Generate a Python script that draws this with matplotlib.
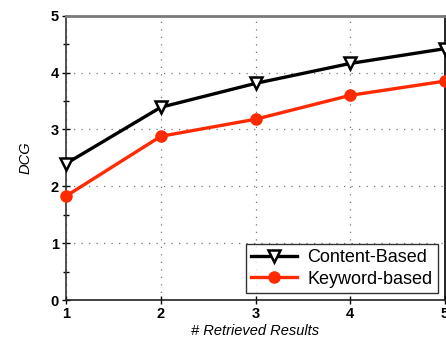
import matplotlib
matplotlib.use("Agg")
import matplotlib.pyplot as plt
from matplotlib.ticker import MultipleLocator

plt.rcParams['font.family'] = ['Liberation Sans', 'DejaVu Sans']

retrieved = [1, 2, 3, 4, 5]
content_based = [2.40, 3.39, 3.81, 4.16, 4.42]
keyword_based = [1.83, 2.88, 3.18, 3.60, 3.85]
y_ticks = [0, 1, 2, 3, 4, 5]

fig = plt.figure(figsize=(4.46, 3.43), dpi=100)
ax = fig.add_axes([0.148, 0.1245, 0.85, 0.83])

ax.plot(retrieved, content_based, color='black', lw=2.4, marker='v',
        markersize=9, markerfacecolor='white', markeredgecolor='black',
        markeredgewidth=1.8, label='Content-Based', clip_on=False, zorder=4)
ax.plot(retrieved, keyword_based, color='#ff2a00', lw=2.4, marker='o',
        markersize=8, markerfacecolor='#ff2a00', markeredgecolor='#ff2a00',
        label='Keyword-based', clip_on=False, zorder=3)

ax.set_xlim(1, 5)
ax.set_ylim(0, 5)
ax.set_xticks(retrieved)
ax.set_yticks(y_ticks)
ax.yaxis.set_minor_locator(MultipleLocator(0.5))
ax.grid(True, which='major', linestyle=(0, (1, 5)), color='#777777', lw=0.9)

for lab in ax.get_xticklabels() + ax.get_yticklabels():
    lab.set_fontweight('bold')
ax.tick_params(which='major', direction='inout', length=6, width=1,
               labelsize=10.5, pad=2, colors='black')
ax.tick_params(which='minor', direction='inout', length=4, width=1)

ax.spines['top'].set_color('#7a7a7a')
ax.spines['top'].set_linewidth(2)
ax.spines['left'].set_color('#333333')
ax.spines['left'].set_linewidth(1.2)
ax.spines['bottom'].set_color('#222222')
ax.spines['bottom'].set_linewidth(1.2)
ax.spines['right'].set_color('black')
ax.spines['right'].set_linewidth(1.2)

ax.set_xlabel('# Retrieved Results', fontstyle='italic', fontsize=10.5, labelpad=2)
ax.set_ylabel('DCG', fontstyle='italic', fontsize=10.5, labelpad=13)

leg = ax.legend(loc='lower right', fontsize=13, frameon=True, fancybox=False,
                handlelength=2.5, borderpad=0.3, labelspacing=0.25,
                handletextpad=0.6, borderaxespad=0.4)
leg.get_frame().set_edgecolor('black')
leg.get_frame().set_linewidth(1.0)

fig.savefig('out.png', dpi=100)
